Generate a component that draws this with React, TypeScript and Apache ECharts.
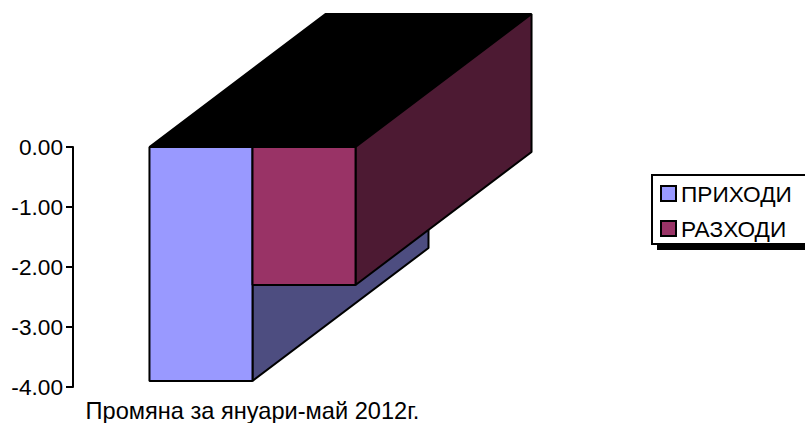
import React, { useEffect, useRef } from "react";
import * as echarts from "echarts";

const categories = ["Промяна за януари-май 2012г."];
const seriesNames = ["ПРИХОДИ", "РАЗХОДИ"];
const incomeValues = [-3.9];
const expenseValues = [-2.3];
const frontColors = ["#9999FF", "#993366"];
const sideColors = ["#4D4D80", "#4D1A33"];
const topColor = "#000000";
const depthX = 176;
const depthY = 133;
const font = "'Liberation Sans', Arial, sans-serif";
const textSize = 22.67;
const categorySize = 23.6;

function makeRender(slot: number) {
  return (params: any, api: any) => {
    const cat = api.value(0);
    const val = api.value(1);
    const band = api.size([1, 0])[0];
    const w = band * 0.287;
    const zero = api.coord([cat, 0]);
    const end = api.coord([cat, val]);
    const x0 = zero[0] + slot * w;
    const x1 = x0 + w;
    const y0 = zero[1];
    const y1 = end[1];
    const poly = (points: number[][], fill: string) => ({
      type: "polygon",
      shape: { points },
      style: { fill, stroke: "#000", lineWidth: 2, lineJoin: "bevel" },
    });
    return {
      type: "group",
      children: [
        poly(
          [[x0, y0], [x1, y0], [x1 + depthX, y0 - depthY], [x0 + depthX, y0 - depthY]],
          topColor
        ),
        poly(
          [[x1, y0], [x1 + depthX, y0 - depthY], [x1 + depthX, y1 - depthY], [x1, y1]],
          sideColors[slot + 1]
        ),
        poly([[x0, y0], [x1, y0], [x1, y1], [x0, y1]], frontColors[slot + 1]),
      ],
    };
  };
}

export default function App() {
  const ref = useRef<HTMLDivElement>(null);
  useEffect(() => {
    document.body.style.margin = "0";
    const chart = echarts.init(ref.current!, undefined, { renderer: "svg" });
    chart.setOption({
      animation: false,
      backgroundColor: "#fff",
      grid: { left: 73, top: 147, width: 359, height: 241 },
      xAxis: {
        type: "category",
        data: categories,
        axisLine: { show: false },
        axisTick: { show: false },
        splitLine: { show: false },
        axisLabel: {
          color: "#000",
          fontFamily: font,
          fontSize: categorySize,
          margin: 12,
        },
      },
      yAxis: {
        type: "value",
        min: -4,
        max: 0,
        interval: 1,
        splitLine: { show: false },
        axisLine: { show: true, lineStyle: { color: "#000", width: 2 } },
        axisTick: { show: true, length: 7, lineStyle: { color: "#000", width: 2 } },
        axisLabel: {
          color: "#000",
          fontFamily: font,
          fontSize: textSize,
          margin: 10,
          formatter: (v: number) => v.toFixed(2),
        },
      },
      legend: {
        orient: "vertical",
        left: 660,
        top: 182,
        padding: 0,
        itemWidth: 15,
        itemHeight: 15,
        itemGap: 12,
        icon: "rect",
        z: 10,
        data: seriesNames,
        itemStyle: { borderColor: "#000", borderWidth: 2 },
        textStyle: { color: "#000", fontFamily: font, fontSize: textSize },
      },
      graphic: [
        {
          type: "rect",
          z: 1,
          shape: { x: 657, y: 180, width: 160, height: 70 },
          style: { fill: "#000" },
        },
        {
          type: "rect",
          z: 2,
          shape: { x: 652, y: 175, width: 160, height: 69 },
          style: { fill: "#fff", stroke: "#000", lineWidth: 2 },
        },
      ],
      series: [
        {
          type: "custom",
          name: seriesNames[0],
          itemStyle: { color: frontColors[0] },
          renderItem: makeRender(-1),
          data: incomeValues.map((v, i) => [i, v]),
          encode: { x: 0, y: 1 },
        },
        {
          type: "custom",
          name: seriesNames[1],
          itemStyle: { color: frontColors[1] },
          renderItem: makeRender(0),
          data: expenseValues.map((v, i) => [i, v]),
          encode: { x: 0, y: 1 },
        },
      ],
    });
    return () => chart.dispose();
  }, []);
  return <div ref={ref} style={{ position: "absolute", left: 0, top: 0, width: 805, height: 423 }} />;
}
